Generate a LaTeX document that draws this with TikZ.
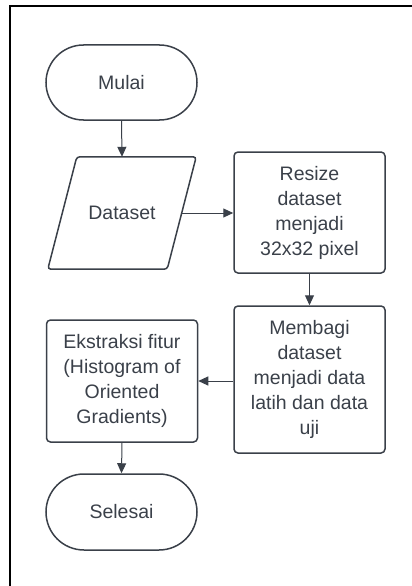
\documentclass[tikz,border=0pt]{standalone}
\usepackage{fontspec}
\setmainfont{Liberation Sans}
\usetikzlibrary{arrows.meta,shapes.misc}
\definecolor{ink}{HTML}{3A4049}
\tikzset{
  base/.style={draw=ink, line width=1.5pt, text=ink, align=center, inner sep=0pt,
    font=\fontsize{19.5}{25}\selectfont},
  term/.style={base, rounded rectangle, minimum width=151pt, minimum height=75pt},
  proc/.style={base, rounded corners=4pt, minimum width=151pt},
  io/.style={text=ink, align=center, inner sep=0pt, minimum width=119pt, minimum height=112pt,
    font=\fontsize{19.5}{25}\selectfont},
  conn/.style={draw=ink, line width=1pt, -{Triangle[length=10pt,width=9pt]}}
}
\begin{document}
\begin{tikzpicture}[x=1pt,y=-1pt]
\useasboundingbox (0,0) rectangle (412,586);
\draw[line width=2pt, black] (9.5,586) -- (9.5,6.5) -- (412,6.5);
\node[term] (mulai) at (121.5,82.5) {Mulai};
\node[io] (dataset) at (122,213) {Dataset};
\draw[draw=ink, line width=1.5pt, rounded corners=3pt]
  ([xshift=14.5pt]dataset.north west) -- ([xshift=14.5pt]dataset.north east)
  -- ([xshift=-14.5pt]dataset.south east) -- ([xshift=-14.5pt]dataset.south west) -- cycle;
\node[proc, minimum height=121pt] (resize) at (309.5,212.5) {Resize\\dataset\\menjadi\\32x32 pixel};
\node[proc, minimum height=147pt] (membagi) at (309.5,379.5) {Membagi\\dataset\\menjadi data\\latih dan data\\uji};
\node[proc, minimum height=122pt] (ekstraksi) at (122,381) {Ekstraksi fitur\\(Histogram of\\Oriented\\Gradients)};
\node[term, minimum height=76pt] (selesai) at (121.5,512) {Selesai};
\draw[conn] (mulai.south) -- (dataset.north);
\draw[conn] (dataset.east) -- (resize.west |- dataset.east);
\draw[conn] (resize.south) -- (membagi.north);
\draw[conn] (membagi.west |- ekstraksi.east) -- (ekstraksi.east);
\draw[conn] (ekstraksi.south) -- (selesai.north);
\end{tikzpicture}
\end{document}
